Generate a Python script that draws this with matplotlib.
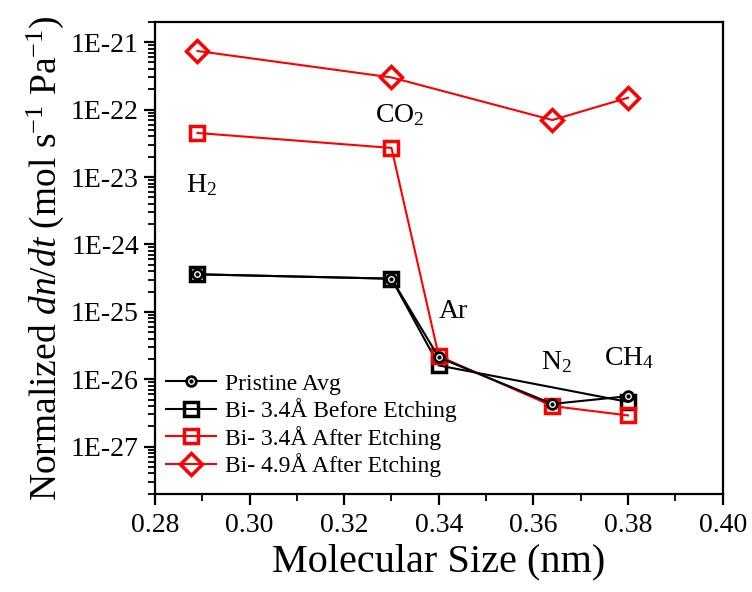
import numpy as np
import matplotlib
matplotlib.use("Agg")
import matplotlib.pyplot as plt

plt.rcParams['font.family'] = ['Liberation Serif', 'DejaVu Serif']
plt.rcParams['mathtext.fontset'] = 'custom'
plt.rcParams['mathtext.rm'] = 'Liberation Serif'
plt.rcParams['mathtext.it'] = 'Liberation Serif:italic'

# molecular sizes (nm): H2, CO2, Ar, N2, CH4
size = [0.289, 0.330, 0.340, 0.364, 0.380]
gas_labels = ['H$_2$', 'CO$_2$', 'Ar', 'N$_2$', 'CH$_4$']
label_y = [6.0e-24, 6.5e-23, 8.0e-26, 1.4e-26, 1.6e-26]
label_dx = [-0.0025, -0.0035, 0.0000, -0.0025, -0.0050]

pristine = [3.6e-25, 3.1e-25, 2.1e-26, 4.3e-27, 5.6e-27]
before_x = [0.289, 0.330, 0.340, 0.380]
before = [3.6e-25, 3.1e-25, 1.6e-26, 4.6e-27]
after34 = [4.5e-23, 2.7e-23, 2.2e-26, 4.0e-27, 2.9e-27]
after49_x = [0.289, 0.330, 0.364, 0.380]
after49_y = [7.4e-22, 3.0e-22, 7.0e-23, 1.5e-22]

fig = plt.figure(figsize=(7.52, 5.92), dpi=100)
ax = fig.add_axes([0.206, 0.166, 0.755, 0.797])

red = '#ff0000'
l_before, = ax.plot(before_x, before, '-', color='black', lw=1.5, marker='s',
                    ms=10, mfc='none', mec='black', mew=2.5, zorder=2)
l_after34, = ax.plot(size, after34, '-', color=red, lw=1.5, marker='s',
                     ms=10, mfc='none', mec=red, mew=2.5, zorder=3)
l_pris, = ax.plot(size, pristine, '-', color='black', lw=1.5, marker='o',
                  ms=7, mfc='white', mec='black', mew=2, zorder=4)
l_dot, = ax.plot(size, pristine, ls='none', marker='o', ms=2, color='black', zorder=5)
l_after49, = ax.plot(after49_x, after49_y, '-', color=red, lw=1.5, marker='D',
                     ms=11, mfc='none', mec=red, mew=2.5, zorder=3)

for x, y, dx, t in zip(size, label_y, label_dx, gas_labels):
    ax.text(x + dx, y, t, fontsize=20, ha='left', va='baseline')

ax.set_yscale('log')
ax.set_xlim(0.28, 0.40)
ax.set_ylim(2e-28, 2e-21)
ax.set_xticks(np.arange(0.28, 0.401, 0.02))
ax.set_xticks(np.arange(0.29, 0.40, 0.02), minor=True)
ax.set_xticklabels(['%.2f' % v for v in np.arange(0.28, 0.401, 0.02)])
yt = [1e-27, 1e-26, 1e-25, 1e-24, 1e-23, 1e-22, 1e-21]
ax.set_yticks(yt)
ax.set_yticklabels(['1E-%d' % k for k in range(27, 20, -1)])
ax.yaxis.set_minor_locator(matplotlib.ticker.LogLocator(base=10, subs=np.arange(2, 10)))
ax.yaxis.set_minor_formatter(matplotlib.ticker.NullFormatter())

for s in ax.spines.values():
    s.set_linewidth(1.6)
ax.tick_params(which='major', direction='out', length=8, width=1.6, labelsize=20)
ax.tick_params(which='minor', direction='out', length=5, width=1.3)
ax.tick_params(axis='x', pad=6)

ax.set_xlabel('Molecular Size (nm)', fontsize=29, labelpad=4)
ax.set_ylabel('Normalized $\\it{dn/dt}$ (mol s$^{-1}$ Pa$^{-1}$)', fontsize=27, labelpad=4)

leg = ax.legend([(l_pris, l_dot), l_before, l_after34, l_after49],
                ['Pristine Avg', 'Bi- 3.4Å Before Etching', 'Bi- 3.4Å After Etching',
                 'Bi- 4.9Å After Etching'],
                loc='lower left', bbox_to_anchor=(-0.005, 0.005), frameon=False,
                fontsize=17, handlelength=2.1, labelspacing=0.15, handletextpad=0.4,
                borderaxespad=0.2)

fig.savefig('out.png', dpi=100)
